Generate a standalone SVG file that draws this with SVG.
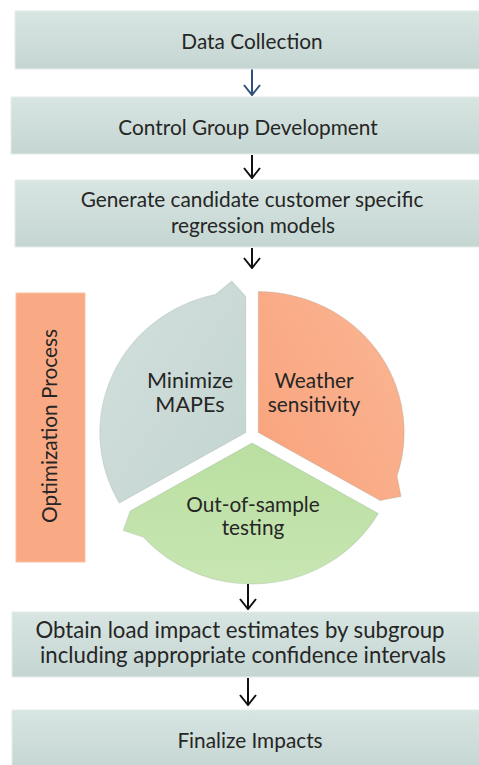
<svg xmlns="http://www.w3.org/2000/svg" width="479" height="765" viewBox="0 0 479 765">
<defs>
<linearGradient id="boxg" x1="0" y1="0" x2="0" y2="1"><stop offset="0" stop-color="#d8e5e2"/><stop offset="1" stop-color="#c5d6d2"/></linearGradient>
<linearGradient id="gGray" x1="0" y1="0" x2="1" y2="1"><stop offset="0" stop-color="#d3e0dd"/><stop offset="1" stop-color="#c3d4d0"/></linearGradient>
<linearGradient id="gOrange" x1="0" y1="0" x2="1" y2="1"><stop offset="0" stop-color="#fbb795"/><stop offset="1" stop-color="#f8a27b"/></linearGradient>
<linearGradient id="gGreen" x1="0" y1="0" x2="1" y2="1"><stop offset="0" stop-color="#cde9b9"/><stop offset="1" stop-color="#b6dd9c"/></linearGradient>
<marker id="ahBlue" viewBox="0 0 12 18" refX="11" refY="9" markerWidth="12" markerHeight="18" markerUnits="userSpaceOnUse" orient="auto"><path d="M1,1 L11,9 L1,17" fill="none" stroke="#2f507c" stroke-width="2"/></marker>
<marker id="ahBlack" viewBox="0 0 12 18" refX="11" refY="9" markerWidth="12" markerHeight="18" markerUnits="userSpaceOnUse" orient="auto"><path d="M1,1 L11,9 L1,17" fill="none" stroke="#111" stroke-width="2"/></marker>
</defs>
<style>
.box{fill:url(#boxg);stroke:#e4edea;stroke-width:1}
.t{font-family:Lato,"Liberation Sans",sans-serif;font-size:20.8px;fill:#262626;text-anchor:middle}
.big{font-size:22.2px}
.mid{font-size:21.6px}
.seg{stroke:#8fa09c;stroke-opacity:0.25;stroke-width:1}
.ln{fill:none;stroke-width:2}
</style>
<rect width="479" height="765" fill="#ffffff"/>

<g id="connectors">
<line class="ln" x1="252" y1="69" x2="252" y2="95" stroke="#2f507c" marker-end="url(#ahBlue)"/>
<line class="ln" x1="252" y1="155" x2="252" y2="178" stroke="#111" marker-end="url(#ahBlack)"/>
<line class="ln" x1="252" y1="248" x2="252" y2="268" stroke="#111" marker-end="url(#ahBlack)"/>
<line class="ln" x1="248" y1="584" x2="248" y2="609" stroke="#111" marker-end="url(#ahBlack)"/>
<line class="ln" x1="248" y1="678" x2="248" y2="705" stroke="#111" marker-end="url(#ahBlack)"/>
</g>

<g id="data-collection">
<rect class="box" x="15" y="11" width="470" height="58"/>
<text class="t" x="252" y="49">Data Collection</text>
</g>
<g id="control-group">
<rect class="box" x="11" y="97" width="474" height="57"/>
<text class="t" x="248" y="135">Control Group Development</text>
</g>
<g id="generate-models">
<rect class="box" x="15" y="180" width="470" height="67"/>
<text class="t" x="252" y="207">Generate candidate customer specific</text>
<text class="t" x="253" y="233">regression models</text>
</g>

<g id="optimization-process">
<rect x="16" y="293" width="69" height="269" fill="#f9aa84" stroke="#fbc2a4" stroke-width="1"/>
<text class="t" transform="translate(57,426) rotate(-90)">Optimization Process</text>
</g>

<g id="minimize-mapes">
<path class="seg" fill="url(#gGray)" transform="translate(252,436) scale(1.035,1) translate(-6.06,-3.5)" d="M0,0 L-122.11,70.5 A141,141 0 0 1 -29.32,-137.92 L-13.5,-151.5 L0,-136 Z"/>
<text class="t mid" x="190" y="388">Minimize</text>
<text class="t mid" x="190" y="412">MAPEs</text>
</g>
<g id="weather-sensitivity">
<path class="seg" fill="url(#gOrange)" transform="translate(252,436) scale(1.035,1) rotate(120) translate(-6.06,-3.5)" d="M0,0 L-122.11,70.5 A141,141 0 0 1 -29.32,-137.92 L-13.5,-151.5 L0,-136 Z"/>
<text class="t" x="314" y="388">Weather</text>
<text class="t" x="314" y="412">sensitivity</text>
</g>
<g id="out-of-sample">
<path class="seg" fill="url(#gGreen)" transform="translate(252,436) scale(1.035,1) rotate(240) translate(-6.06,-3.5)" d="M0,0 L-122.11,70.5 A141,141 0 0 1 -29.32,-137.92 L-13.5,-151.5 L0,-136 Z"/>
<text class="t" x="253" y="512">Out-of-sample</text>
<text class="t" x="253" y="535">testing</text>
</g>

<g id="obtain-estimates">
<rect class="box" x="12" y="612" width="473" height="65"/>
<text class="t big" x="240" y="638">Obtain load impact estimates by subgroup</text>
<text class="t big" x="243" y="663">including appropriate confidence intervals</text>
</g>
<g id="finalize-impacts">
<rect class="box" x="12" y="710" width="473" height="60"/>
<text class="t" x="250" y="748">Finalize Impacts</text>
</g>
</svg>
